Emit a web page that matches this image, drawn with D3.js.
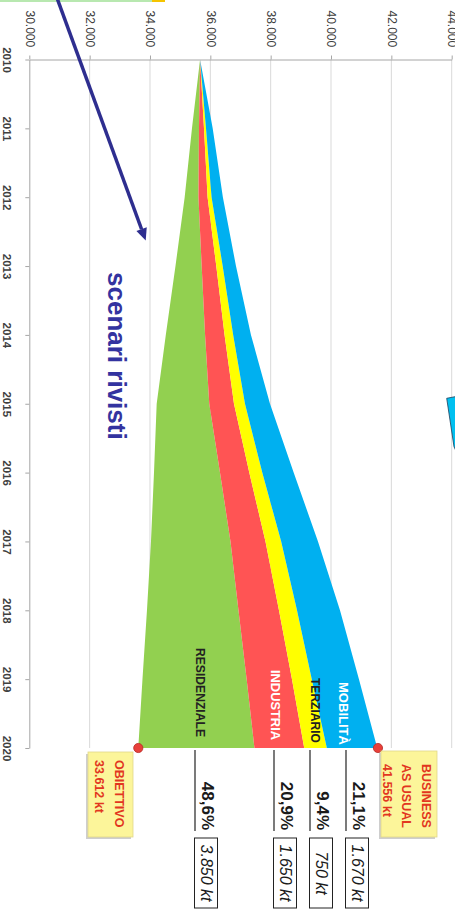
<!DOCTYPE html>
<html>
<head>
<meta charset="utf-8">
<script src="https://cdn.jsdelivr.net/npm/d3@7"></script>
<style>
  body { margin: 0; background: #fff; }
  svg { display: block; }
  text { font-family: "Liberation Sans", Arial, sans-serif; }
</style>
</head>
<body>
<svg id="chart"></svg>
<script>
// emissions path, kt CO2 (chart is drawn rotated: years go down, values go right)
const years = [2010, 2011, 2012, 2013, 2014, 2015, 2016, 2017, 2018, 2019, 2020];
const obiettivo    = [35660, 35392, 35150, 34845, 34524, 34222, 34133, 34033, 33900, 33751, 33612];
const residenziale = [0, 232, 457, 868, 1302, 1743, 2187, 2635, 3033, 3453, 3850];
const industria    = [0, 166, 302, 484, 646, 819, 971, 1160, 1342, 1502, 1650];
const terziario    = [0, 66, 132, 212, 285, 364, 430, 520, 597, 656, 750];
const mobilita     = [0, 222, 375, 441, 590, 829, 1041, 1220, 1425, 1564, 1670];

const valueTicks = [30000, 32000, 34000, 36000, 38000, 40000, 42000, 44000];

const sectorNames = ['RESIDENZIALE', 'INDUSTRIA', 'TERZIARIO', 'MOBILITÀ'];
const sectorShare = [48.6, 20.9, 9.4, 21.1];
const sectorCut = [3850, 1650, 750, 1670];

const bauValue = 41556;
const targetValue = 33612;

const colors = ['#92d050', '#ff5454', '#ffff00', '#00b0f0'];
const labelColors = ['#222', '#fff', '#222', '#fff'];

const it = d3.formatLocale({ decimal: ',', thousands: '.', grouping: [3], currency: ['', ''] });
const fmt = it.format(',d');
const fmtPct = it.format('.1f');

const W = 455, H = 912;
const svg = d3.select('#chart').attr('width', W).attr('height', H);

svg.append('rect').attr('width', W).attr('height', H).attr('fill', '#fff');

const x = d3.scaleLinear().domain([30000, 44000]).range([29.3, 451.7]);
const y = d3.scaleLinear().domain([2010, 2020]).range([59.5, 748]);

// strip of something cut off at the top
svg.append('rect').attr('x', 0).attr('y', 0).attr('width', 152).attr('height', 2).attr('fill', '#b8e8b0');
svg.append('rect').attr('x', 152).attr('y', 0).attr('width', 13).attr('height', 2).attr('fill', '#f5c400');

// gridlines
svg.append('g')
    .selectAll('line')
    .data(valueTicks.slice(1))
    .join('line')
    .attr('x1', d => x(d)).attr('x2', d => x(d))
    .attr('y1', y(2010)).attr('y2', y(2020))
    .attr('stroke', '#d9d9d9')
    .attr('stroke-width', 1);

// stacked areas
const keys = ['obiettivo', 'residenziale', 'industria', 'terziario', 'mobilita'];
const table = years.map((yr, i) => ({
    year: yr,
    obiettivo: obiettivo[i],
    residenziale: residenziale[i],
    industria: industria[i],
    terziario: terziario[i],
    mobilita: mobilita[i]
}));
const series = d3.stack().keys(keys)(table);

const area = d3.area()
    .y(d => y(d.data.year))
    .x0(d => x(d[0]))
    .x1(d => x(d[1]));

svg.append('g')
    .selectAll('path')
    .data(series.slice(1))
    .join('path')
    .attr('d', area)
    .attr('fill', (d, i) => colors[i]);

// value axis (top)
const xAxis = svg.append('g')
    .attr('transform', `translate(0,${y(2010)})`)
    .call(d3.axisTop(x).tickValues(valueTicks).tickFormat(fmt).tickSize(4).tickSizeOuter(0))
    .attr('font-family', '"Liberation Sans", Arial, sans-serif')
    .attr('font-size', 12);
xAxis.select('.domain').attr('stroke', '#a6a6a6');
xAxis.selectAll('.tick line').attr('stroke', '#a6a6a6');
xAxis.selectAll('.tick text')
    .attr('transform', 'rotate(90)')
    .attr('x', -49).attr('y', 0).attr('dy', '0.35em')
    .attr('text-anchor', 'start')
    .attr('fill', '#404040');

// year axis (left)
const yAxis = svg.append('g')
    .attr('transform', `translate(${x(30000)},0)`)
    .call(d3.axisLeft(y).tickValues(years).tickFormat(d => d).tickSize(4).tickSizeOuter(0))
    .attr('font-family', '"Liberation Sans", Arial, sans-serif')
    .attr('font-size', 11.5)
    .attr('font-weight', 'bold');
yAxis.select('.domain').attr('stroke', '#a6a6a6');
yAxis.selectAll('.tick line').attr('stroke', '#a6a6a6');
yAxis.selectAll('.tick text')
    .attr('transform', 'rotate(90)')
    .attr('x', 0).attr('y', 26).attr('dy', 0)
    .attr('text-anchor', 'middle')
    .attr('fill', '#404040');

// sector labels inside the areas
const labelPos = [
    { cx: 201, cy: 692.5, len: 89 },
    { cx: 276, cy: 705, len: 70 },
    { cx: 315.5, cy: 710.5, len: 65 },
    { cx: 344, cy: 713.5, len: 63 }
];
sectorNames.forEach((name, i) => {
    const p = labelPos[i];
    svg.append('text')
        .attr('transform', `translate(${p.cx - 4.7},${p.cy}) rotate(90)`)
        .attr('text-anchor', 'middle')
        .attr('font-size', 13)
        .attr('font-weight', 'bold')
        .attr('textLength', p.len)
        .attr('lengthAdjust', 'spacingAndGlyphs')
        .attr('fill', labelColors[i])
        .text(name);
});

// percentage rows and reduction boxes
const rowX = [195, 274, 310, 346];
const rows = svg.append('g');
sectorNames.forEach((name, i) => {
    const rx = rowX[i];
    rows.append('line')
        .attr('x1', rx).attr('x2', rx)
        .attr('y1', 750).attr('y2', 831)
        .attr('stroke', '#333').attr('stroke-width', 1.3);
    rows.append('text')
        .attr('transform', `translate(${rx + 6.5},830) rotate(90)`)
        .attr('text-anchor', 'end')
        .attr('font-size', 17)
        .attr('font-weight', 'bold')
        .attr('fill', '#1a1a1a')
        .text(fmtPct(sectorShare[i]) + '%');
    rows.append('rect')
        .attr('x', rx - 0.5).attr('y', 838)
        .attr('width', 23).attr('height', 70)
        .attr('fill', '#fff')
        .attr('stroke', '#222').attr('stroke-width', 1);
    rows.append('text')
        .attr('transform', `translate(${rx + 6},873) rotate(90)`)
        .attr('text-anchor', 'middle')
        .attr('font-size', 16)
        .attr('font-style', 'italic')
        .attr('fill', '#1a1a1a')
        .text(fmt(sectorCut[i]) + ' kt');
});

// end points
[targetValue, bauValue].forEach(v => {
    svg.append('circle')
        .attr('cx', x(v)).attr('cy', y(2020))
        .attr('r', 4.6)
        .attr('fill', '#e8403a')
        .attr('stroke', '#b52a25').attr('stroke-width', 0.8);
});

// callout boxes
function callout(bx, by, bw, bh, lines, baseX, startY) {
    const g = svg.append('g');
    g.append('rect')
        .attr('x', bx - 2).attr('y', by + 2)
        .attr('width', bw).attr('height', bh)
        .attr('fill', '#b9b9b9').attr('opacity', 0.7);
    g.append('rect')
        .attr('x', bx).attr('y', by)
        .attr('width', bw).attr('height', bh)
        .attr('fill', '#fcf59a')
        .attr('stroke', '#e0d889').attr('stroke-width', 0.8);
    lines.forEach((t, i) => {
        g.append('text')
            .attr('transform', `translate(${baseX[i]},${startY}) rotate(90)`)
            .attr('font-size', 12.5)
            .attr('font-weight', 'bold')
            .attr('fill', '#e2361f')
            .text(t);
    });
}
callout(88, 752, 45, 85, ['OBIETTIVO', fmt(targetValue) + ' kt'], [115, 95], 760);
callout(381, 751, 56, 86, ['BUSINESS', 'AS USUAL', fmt(bauValue) + ' kt'], [422, 402, 382.5], 764);

// "scenari rivisti" note with arrow
svg.append('text')
    .attr('transform', 'translate(108,272) rotate(90)')
    .attr('font-size', 26)
    .attr('font-weight', 'bold')
    .attr('fill', '#3333a0')
    .text('scenari rivisti');

const tip = [145.7, 240.5], tail = [57, -2];
const len = Math.hypot(tip[0] - tail[0], tip[1] - tail[1]);
const ux = (tip[0] - tail[0]) / len, uy = (tip[1] - tail[1]) / len;
const headL = 12, headW = 5.5;
const bxh = tip[0] - ux * headL, byh = tip[1] - uy * headL;
svg.append('line')
    .attr('x1', tail[0]).attr('y1', tail[1])
    .attr('x2', bxh).attr('y2', byh)
    .attr('stroke', '#2e2e8f').attr('stroke-width', 3.5);
svg.append('path')
    .attr('d', `M${tip[0]},${tip[1]}L${bxh - uy * headW},${byh + ux * headW}L${bxh + uy * headW},${byh - ux * headW}Z`)
    .attr('fill', '#2e2e8f');

// piece of a cyan arrow cut by the right edge
svg.append('path')
    .attr('d', 'M446.7,398.3L456,396.5L456,451L454,446.7Z')
    .attr('fill', '#00c0f0')
    .attr('stroke', '#1d3d5c').attr('stroke-width', 0.8);
</script>
</body>
</html>
